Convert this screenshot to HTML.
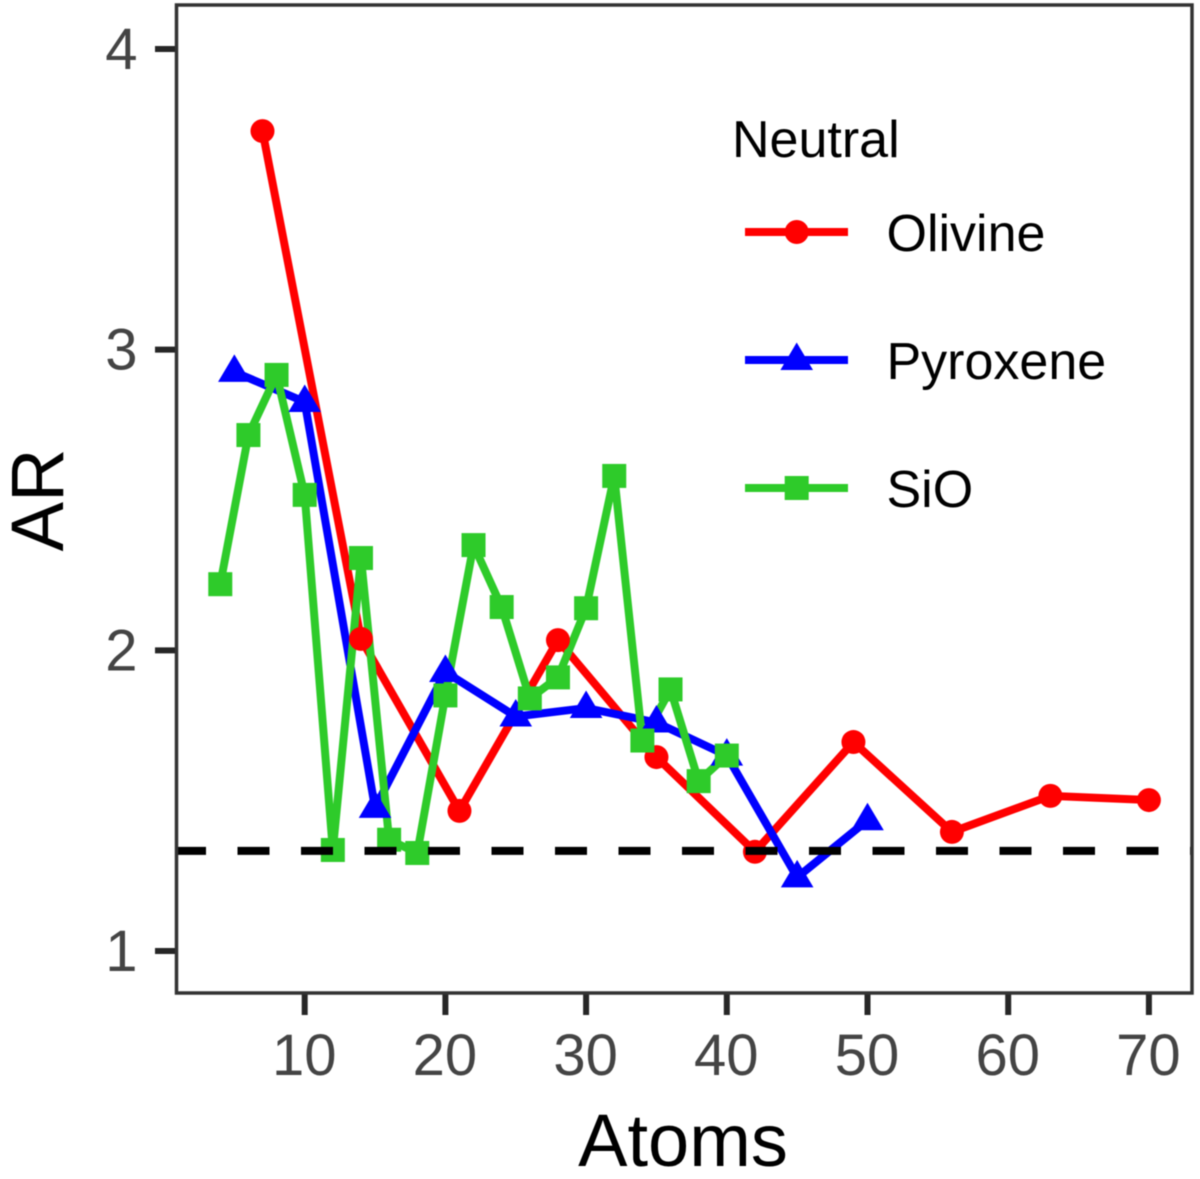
<!DOCTYPE html>
<html>
<head>
<meta charset="utf-8">
<style>
html,body{margin:0;padding:0;background:#fff;}
svg{display:block;font-family:"Liberation Sans",Arial,sans-serif;filter:blur(0.5px);}
</style>
</head>
<body>
<svg id="chart" xmlns="http://www.w3.org/2000/svg" width="1200" height="1179" viewBox="0 0 1200 1179">
  <rect x="0" y="0" width="1200" height="1179" fill="#fff"/>
  <g id="marks"></g>
  <g id="axes"></g>
  <rect x="176.5" y="5" width="1015.5" height="988" fill="none" stroke="#333" stroke-width="3.5"/>
  <text x="683" y="1166" font-size="74" text-anchor="middle" fill="#000">Atoms</text>
  <text transform="translate(63 500) rotate(-90)" font-size="74" text-anchor="middle" fill="#000">AR</text>
  <g id="legend">
    <text x="732" y="157" font-size="52" fill="#000">Neutral</text>
  </g>
</svg>
<script>
var xTicks = [10, 20, 30, 40, 50, 60, 70];
var yTicks = [1, 2, 3, 4];
var referenceLevel = 1.333;

var olivineAtoms = [7, 14, 21, 28, 35, 42, 49, 56, 63, 70];
var olivineAR = [3.727, 2.038, 1.466, 2.034, 1.645, 1.33, 1.695, 1.396, 1.516, 1.502];

var pyroxeneAtoms = [5, 10, 15, 20, 25, 30, 35, 40, 45, 50];
var pyroxeneAR = [2.926, 2.826, 1.476, 1.928, 1.78, 1.808, 1.76, 1.65, 1.245, 1.435];

var sioAtoms = [4, 6, 8, 10, 12, 14, 16, 18, 20, 22, 24, 26, 28, 30, 32, 34, 36, 38, 40];
var sioAR = [2.22, 2.716, 2.916, 2.517, 1.336, 2.307, 1.37, 1.326, 1.85, 2.35, 2.144, 1.84, 1.91, 2.14, 2.58, 1.70, 1.87, 1.565, 1.65];

var NS = 'http://www.w3.org/2000/svg';
function xScale(v) { return 304.7 + (v - 10) * 14.07; }
function yScale(v) { return 951 - (v - 1) * 300.67; }

function make(tag, attrs, parent) {
  var el = document.createElementNS(NS, tag);
  for (var k in attrs) { el.setAttribute(k, attrs[k]); }
  parent.appendChild(el);
  return el;
}

function drawMarker(shape, cx, cy, color, parent) {
  var m;
  if (shape === 'circle') {
    m = make('circle', { cx: cx, cy: cy, r: 12, fill: color }, parent);
  } else if (shape === 'triangle') {
    var p = (cx - 16.3) + ',' + (cy + 10) + ' ' + (cx + 16.3) + ',' + (cy + 10) + ' ' + cx + ',' + (cy - 17.5);
    m = make('polygon', { points: p, fill: color }, parent);
  } else {
    m = make('rect', { x: cx - 12, y: cy - 12, width: 24, height: 24, fill: color }, parent);
  }
  return m;
}

var axes = document.getElementById('axes');
var marks = document.getElementById('marks');
var legend = document.getElementById('legend');

xTicks.forEach(function (t) {
  var tick = make('line', { x1: xScale(t), x2: xScale(t), y1: 994, y2: 1015, stroke: '#262626', 'stroke-width': 6 }, axes);
  
  
  var label = make('text', { x: xScale(t) - 0.5, y: 1075, 'font-size': 58, 'text-anchor': 'middle', fill: '#444' }, axes);
  
  
  label.textContent = t;
});

yTicks.forEach(function (t) {
  var tick = make('line', { x1: 155, x2: 176, y1: yScale(t), y2: yScale(t), stroke: '#262626', 'stroke-width': 6 }, axes);
  
  
  var label = make('text', { x: 137.5, y: yScale(t) + 20, 'font-size': 58, 'text-anchor': 'end', fill: '#444' }, axes);
  
  
  label.textContent = t;
});

function drawLine(name, xs, ys, color) {
  var pts = xs.map(function (x, i) { return xScale(x) + ',' + yScale(ys[i]); }).join(' ');
  var line = make('polyline', { points: pts, fill: 'none', stroke: color, 'stroke-width': 8, 'stroke-linejoin': 'round' }, marks);
  
  
}

function drawPoints(name, xs, ys, color, shape) {
  var g = make('g', {}, marks);
  
  
  xs.forEach(function (x, i) {
    var p = drawMarker(shape, xScale(x), yScale(ys[i]), color, g);
    
    
  });
}

drawLine('olivine', olivineAtoms, olivineAR, '#ff0000');
drawLine('pyroxene', pyroxeneAtoms, pyroxeneAR, '#0000ff');
drawLine('sio', sioAtoms, sioAR, '#2ecb2a');
drawPoints('olivine', olivineAtoms, olivineAR, '#ff0000', 'circle');
drawPoints('pyroxene', pyroxeneAtoms, pyroxeneAR, '#0000ff', 'triangle');
drawPoints('sio', sioAtoms, sioAR, '#2ecb2a', 'square');

var refLine = make('line', { x1: 177, x2: 1192, y1: yScale(referenceLevel), y2: yScale(referenceLevel), stroke: '#000', 'stroke-width': 8, 'stroke-dasharray': '32 31.5', 'stroke-dashoffset': 3 }, marks);



function drawLegendEntry(name, label, keyY, color, shape) {
  var g = make('g', {}, legend);
  
  
  make('line', { x1: 745, x2: 848, y1: keyY, y2: keyY, stroke: color, 'stroke-width': 8 }, g);
  drawMarker(shape, 796.7, keyY, color, g);
  var t = make('text', { x: 886.5, y: keyY + 19, 'font-size': 52, fill: '#000' }, g);
  t.textContent = label;
}

drawLegendEntry('olivine', 'Olivine', 232, '#ff0000', 'circle');
drawLegendEntry('pyroxene', 'Pyroxene', 360, '#0000ff', 'triangle');
drawLegendEntry('sio', 'SiO', 488, '#2ecb2a', 'square');
</script>
</body>
</html>
